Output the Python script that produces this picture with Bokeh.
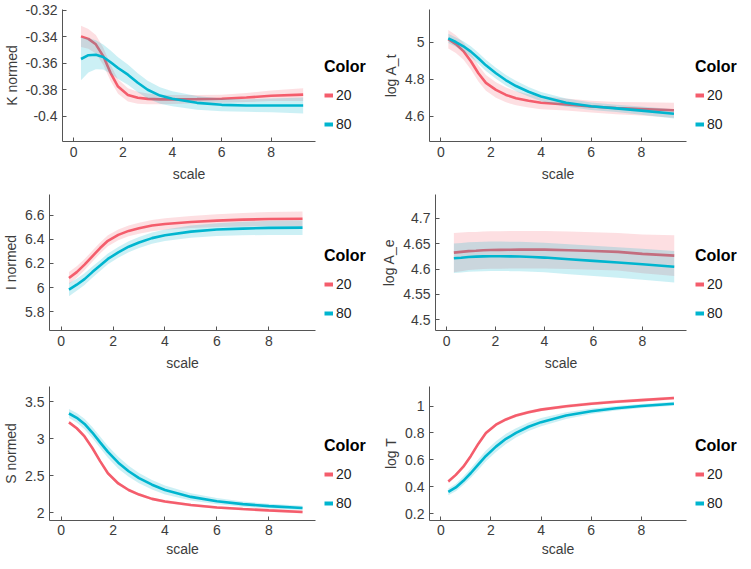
from bokeh.plotting import figure
from bokeh.layouts import column, row
from bokeh.models import (Range1d, FixedTicker, CustomJSTickFormatter, Legend,
                          LegendItem, ColumnDataSource)
from bokeh.embed import file_html
from bokeh.resources import INLINE

# ---------------- data ----------------
SCALE = [0.3, 0.6, 0.9, 1.2, 1.5, 1.8, 2.2, 2.6, 3.0, 3.5, 4.0, 5.0, 6.0, 7.0, 8.0, 9.3]
GROUPS = ["20", "80"]
X_TICKS = [0, 2, 4, 6, 8]

# K normed
K_20 = [-0.3396, -0.3415, -0.3456, -0.3545, -0.3673, -0.3775, -0.3838, -0.3860,
        -0.3868, -0.3872, -0.3872, -0.3870, -0.3867, -0.3858, -0.3845, -0.3836]
K_20_CI = [0.008, 0.0075, 0.007, 0.0065, 0.006, 0.0055, 0.005, 0.0045,
           0.004, 0.0036, 0.0034, 0.0031, 0.0031, 0.0034, 0.004, 0.0048]
K_80 = [-0.3567, -0.3538, -0.3535, -0.3552, -0.3591, -0.3635, -0.3685, -0.3746,
        -0.3799, -0.3843, -0.3867, -0.3898, -0.3913, -0.3918, -0.3918, -0.3918]
K_80_CI = [0.016, 0.013, 0.011, 0.0095, 0.0088, 0.0082, 0.0077, 0.0072,
           0.0067, 0.0062, 0.0057, 0.0052, 0.0048, 0.0048, 0.0052, 0.006]
K_TICKS = [-0.4, -0.38, -0.36, -0.34, -0.32]

# log A_t
AT_20 = [5.017, 4.991, 4.953, 4.898, 4.833, 4.781, 4.743, 4.716,
         4.698, 4.684, 4.674, 4.664, 4.653, 4.645, 4.640, 4.633]
AT_20_CI = [0.05, 0.048, 0.046, 0.045, 0.044, 0.043, 0.042, 0.04,
            0.038, 0.036, 0.035, 0.032, 0.032, 0.033, 0.036, 0.04]
AT_80 = [5.022, 5.002, 4.979, 4.950, 4.914, 4.876, 4.833, 4.795,
         4.764, 4.733, 4.707, 4.674, 4.655, 4.643, 4.631, 4.614]
AT_80_CI = [0.025, 0.025, 0.027, 0.029, 0.03, 0.03, 0.03, 0.029,
            0.028, 0.026, 0.025, 0.022, 0.02, 0.02, 0.022, 0.025]
AT_TICKS = [4.6, 4.8, 5.0]

# I normed
I_20 = [6.079, 6.128, 6.190, 6.259, 6.327, 6.387, 6.436, 6.469,
        6.491, 6.513, 6.526, 6.543, 6.554, 6.562, 6.567, 6.570]
I_20_CI = [0.05, 0.048, 0.046, 0.045, 0.045, 0.045, 0.045, 0.045,
           0.045, 0.046, 0.047, 0.05, 0.053, 0.056, 0.058, 0.06]
I_80 = [5.983, 6.024, 6.070, 6.128, 6.182, 6.237, 6.291, 6.338,
        6.373, 6.409, 6.433, 6.463, 6.480, 6.488, 6.494, 6.496]
I_80_CI = [0.055, 0.05, 0.048, 0.046, 0.045, 0.045, 0.045, 0.045,
           0.045, 0.046, 0.047, 0.05, 0.053, 0.056, 0.058, 0.06]
I_TICKS = [5.8, 6.0, 6.2, 6.4, 6.6]

# log A_e
AE_20 = [4.6325, 4.6340, 4.6355, 4.6362, 4.6370, 4.6375, 4.6378, 4.6380,
         4.6383, 4.6383, 4.6383, 4.6370, 4.6357, 4.6340, 4.6300, 4.6266]
AE_20_CI = [0.0385, 0.038, 0.0375, 0.037, 0.037, 0.037, 0.037, 0.037,
            0.037, 0.037, 0.037, 0.037, 0.037, 0.037, 0.038, 0.040]
AE_80 = [4.6214, 4.6225, 4.6237, 4.6245, 4.6250, 4.6253, 4.6253, 4.6250,
         4.6247, 4.6238, 4.6227, 4.6195, 4.6162, 4.6130, 4.6097, 4.6045]
AE_80_CI = [0.029, 0.029, 0.029, 0.029, 0.029, 0.029, 0.029, 0.029,
            0.029, 0.029, 0.029, 0.0295, 0.030, 0.030, 0.0305, 0.031]
AE_TICKS = [4.5, 4.55, 4.6, 4.65, 4.7]

# S normed
S_20 = [3.224, 3.144, 3.033, 2.877, 2.699, 2.534, 2.396, 2.307,
        2.245, 2.187, 2.152, 2.103, 2.071, 2.049, 2.031, 2.009]
S_20_CI = [0.02, 0.02, 0.02, 0.02, 0.02, 0.02, 0.02, 0.02,
           0.02, 0.02, 0.02, 0.018, 0.018, 0.018, 0.018, 0.02]
S_80 = [3.344, 3.286, 3.202, 3.086, 2.953, 2.824, 2.677, 2.561,
        2.468, 2.379, 2.307, 2.214, 2.156, 2.116, 2.089, 2.063]
S_80_CI = [0.06, 0.065, 0.07, 0.075, 0.078, 0.08, 0.08, 0.075,
           0.07, 0.065, 0.06, 0.05, 0.042, 0.036, 0.032, 0.03]
S_TICKS = [2.0, 2.5, 3.0, 3.5]

# log T
T_20 = [0.439, 0.488, 0.549, 0.629, 0.720, 0.800, 0.861, 0.900,
        0.929, 0.954, 0.973, 0.998, 1.017, 1.032, 1.044, 1.059]
T_20_CI = [0.012, 0.012, 0.012, 0.012, 0.012, 0.012, 0.012, 0.012,
           0.012, 0.012, 0.012, 0.012, 0.012, 0.012, 0.012, 0.012]
T_80 = [0.361, 0.395, 0.444, 0.502, 0.566, 0.629, 0.698, 0.756,
        0.800, 0.846, 0.880, 0.929, 0.961, 0.983, 1.000, 1.017]
T_80_CI = [0.025, 0.028, 0.032, 0.036, 0.039, 0.04, 0.04, 0.038,
           0.035, 0.032, 0.03, 0.025, 0.02, 0.017, 0.015, 0.015]
T_TICKS = [0.2, 0.4, 0.6, 0.8, 1.0]

# ---------------- style ----------------
RED = "#F45D6C"
CYAN = "#00B5CF"
COLORS = [RED, CYAN]
FONT = "Liberation Sans"
TXT = "#3c3c3c"
AXC = "#555555"
LINE_W = 2.6
NAN = float("nan")


def panel(ylabel, y20, c20, y80, c80, yrange, yticks, width, legw, height,
          bleft, btop, bbot, xlab_standoff, xtick_standoff):
    bright = 2
    fw = width - bleft - bright
    fh = height - btop - bbot
    p = figure(frame_width=fw, frame_height=fh, output_backend="svg",
               toolbar_location=None,
               x_range=Range1d(-0.45, 9.8), y_range=Range1d(*yrange),
               min_border_top=btop, min_border_bottom=bbot,
               min_border_left=bleft, min_border_right=bright)
    p.outline_line_color = None
    p.xgrid.visible = False
    p.ygrid.visible = False

    for ys, cs, col in ((y20, c20, RED), (y80, c80, CYAN)):
        src = ColumnDataSource(dict(
            x=SCALE, y=ys,
            lo=[a - b for a, b in zip(ys, cs)],
            hi=[a + b for a, b in zip(ys, cs)]))
        p.varea(x="x", y1="lo", y2="hi", source=src,
                fill_color=col, fill_alpha=0.2)
        p.line(x="x", y="y", source=src, line_color=col, line_width=LINE_W)

    p.xaxis.ticker = FixedTicker(ticks=X_TICKS)
    p.yaxis.ticker = FixedTicker(ticks=yticks)
    p.xaxis.formatter = CustomJSTickFormatter(code="return String(+tick.toFixed(4));")
    p.yaxis.formatter = CustomJSTickFormatter(code="return String(+tick.toFixed(4));")
    p.xaxis.axis_label = "scale"
    p.yaxis.axis_label = ylabel
    for ax in (p.xaxis[0], p.yaxis[0]):
        ax.axis_line_color = AXC
        ax.major_tick_line_color = AXC
        ax.major_tick_in = 4
        ax.major_tick_out = 0
        ax.minor_tick_line_color = None
        ax.major_label_text_font = FONT
        ax.major_label_text_font_size = "14px"
        ax.major_label_text_color = TXT
        ax.axis_label_text_font = FONT
        ax.axis_label_text_font_size = "14px"
        ax.axis_label_text_font_style = "normal"
        ax.axis_label_text_color = TXT
    p.yaxis.major_label_standoff = 5
    p.yaxis.axis_label_standoff = 3
    p.xaxis.major_label_standoff = xtick_standoff
    p.xaxis.axis_label_standoff = xlab_standoff

    # legend lives in its own small figure, its frame aligned with the plot frame
    lg = figure(frame_width=legw - 3, frame_height=fh, output_backend="svg",
                toolbar_location=None, x_axis_type=None, y_axis_type=None,
                x_range=Range1d(0, 1), y_range=Range1d(0, 1),
                min_border_left=3, min_border_right=0,
                min_border_top=btop, min_border_bottom=bbot)
    lg.outline_line_color = None
    lg.xgrid.visible = False
    lg.ygrid.visible = False
    items = []
    for g, col in zip(GROUPS, COLORS):
        r = lg.line(x=[NAN], y=[NAN], line_color=col, line_width=4)
        items.append(LegendItem(label=g, renderers=[r]))
    legend = Legend(
        items=items, title="Color", location="bottom_left",
        title_text_font=FONT, title_text_font_style="bold",
        title_text_font_size="16px", title_text_color="black",
        title_standoff=6,
        label_text_font=FONT, label_text_font_size="14px",
        label_text_color="#222222",
        glyph_width=9, glyph_height=26, label_height=26, label_standoff=3,
        spacing=3, padding=0, margin=4,
        border_line_color=None, background_fill_alpha=0)
    lg.add_layout(legend)
    return row(p, lg)


LW, LLEG = 312, 60
RW, RLEG = 311, 52
c1 = panel("K normed", K_20, K_20_CI, K_80, K_80_CI, (-0.419, -0.3193), K_TICKS,
           LW, LLEG, 186, 57, 9, 45, 6, 5)
c2 = panel("log A_t", AT_20, AT_20_CI, AT_80, AT_80_CI, (4.464, 5.178), AT_TICKS,
           RW, RLEG, 186, 52, 9, 45, 6, 5)
c3 = panel("I normed", I_20, I_20_CI, I_80, I_80_CI, (5.645, 6.77), I_TICKS,
           LW, LLEG, 188, 44, 8, 44, 6, 5)
c4 = panel("log A_e", AE_20, AE_20_CI, AE_80, AE_80_CI, (4.479, 4.747), AE_TICKS,
           RW, RLEG, 188, 58, 8, 44, 6, 5)
c5 = panel("S normed", S_20, S_20_CI, S_80, S_80_CI, (1.894, 3.71), S_TICKS,
           LW, LLEG, 187, 44, 12, 41, 3, 4)
c6 = panel("log T", T_20, T_20_CI, T_80, T_80_CI, (0.149, 1.145), T_TICKS,
           RW, RLEG, 187, 52, 12, 41, 3, 4)

layout = column(row(c1, c2), row(c3, c4), row(c5, c6))
open("out.html", "w").write(file_html(layout, INLINE))
